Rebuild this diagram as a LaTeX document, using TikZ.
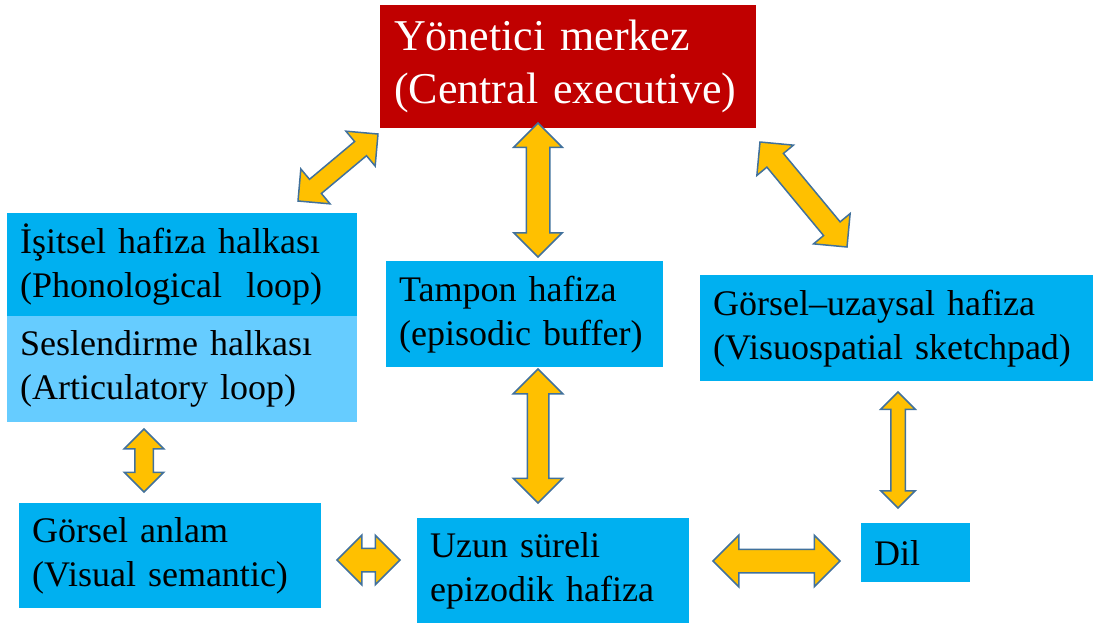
\documentclass[tikz,border=0pt]{standalone}
\usepackage{fontspec}
\setmainfont{Liberation Serif}
\usetikzlibrary{shapes.arrows,decorations.markings}
\hyphenpenalty=10000
\definecolor{execred}{HTML}{C00000}
\definecolor{boxblue}{HTML}{00B0F0}
\definecolor{lightblue}{HTML}{66CCFF}
\definecolor{arrowfill}{HTML}{FFC000}
\definecolor{arrowline}{HTML}{41719C}
\tikzset{
  box/.style={fill=boxblue, anchor=north west, inner xsep=13pt, inner ysep=0pt,
    align=left, font=\fontsize{36}{44}\selectfont},
  blockarrow/.style 2 args={decorate, decoration={markings,
    mark=at position 0.5 with {\node[double arrow, transform shape, fill=arrowfill,
      draw=arrowline, line width=1.5pt, inner xsep=0pt, inner ysep={0.5*#1}, outer sep=0pt,
      double arrow head extend={0.5*(#2-#1)}, minimum width=0pt,
      minimum height={\pgfdecoratedpathlength}] {};}}}
}
\begin{document}
\begin{tikzpicture}[x=1pt,y=-1pt]
\useasboundingbox (0,0) rectangle (1095,625);
% boxes
\node[box, fill=execred, text=white, inner xsep=14pt, font=\fontsize{44}{53}\selectfont,
  text width=348pt, minimum height=123pt] (exec) at (380,5) {Yönetici~merkez\\(Central~executive)};
\node[box, text width=324pt, minimum height=103pt] (phon) at (7,213) {İşitsel~hafiza~halkası\\(Phonological\ \ loop)};
\node[box, fill=lightblue, text width=324pt, minimum height=106pt] (artic) at (7,316) {Seslendirme~halkası\\(Articulatory~loop)};
\node[box, text width=251pt, minimum height=106pt] (buffer) at (386,261) {Tampon~hafiza\\(episodic~buffer)};
\node[box, text width=367pt, minimum height=106pt] (visuo) at (700,275) {Görsel–uzaysal~hafiza\\(Visuospatial~sketchpad)};
\node[box, text width=276pt, minimum height=105pt] (vissem) at (19,503) {Görsel~anlam\\(Visual~semantic)};
\node[box, text width=246pt, minimum height=105pt] (ltm) at (417,518) {Uzun~süreli\\epizodik~hafiza};
\node[box, text width=83pt, minimum height=59pt] (dil) at (861,523) {Dil};
% arrow ends
\coordinate (phon-e) at (298,201);
\coordinate (exec-w) at (378,134);
\coordinate (exec-s) at (538,123);
\coordinate (buffer-n) at (538,257);
\coordinate (exec-e) at (760,142);
\coordinate (visuo-n) at (847,247);
\coordinate (artic-s) at (144,429);
\coordinate (vissem-n) at (144,492);
\coordinate (buffer-s) at (538,369);
\coordinate (ltm-n) at (538,503);
\coordinate (vissem-e) at (337,560);
\coordinate (ltm-w) at (400,560);
\coordinate (ltm-e) at (713,561);
\coordinate (dil-w) at (840,561);
\coordinate (visuo-s) at (898,392);
\coordinate (dil-n) at (898,508);
% arrows
\path[blockarrow={17}{44}] (phon-e) -- (exec-w);
\path[blockarrow={22}{47}] (exec-s) -- (buffer-n);
\path[blockarrow={20}{46}] (exec-e) -- (visuo-n);
\path[blockarrow={17}{38}] (artic-s) -- (vissem-n);
\path[blockarrow={20}{48}] (buffer-s) -- (ltm-n);
\path[blockarrow={22}{48}] (vissem-e) -- (ltm-w);
\path[blockarrow={22}{50}] (ltm-e) -- (dil-w);
\path[blockarrow={13}{33}] (visuo-s) -- (dil-n);
\end{tikzpicture}
\end{document}
